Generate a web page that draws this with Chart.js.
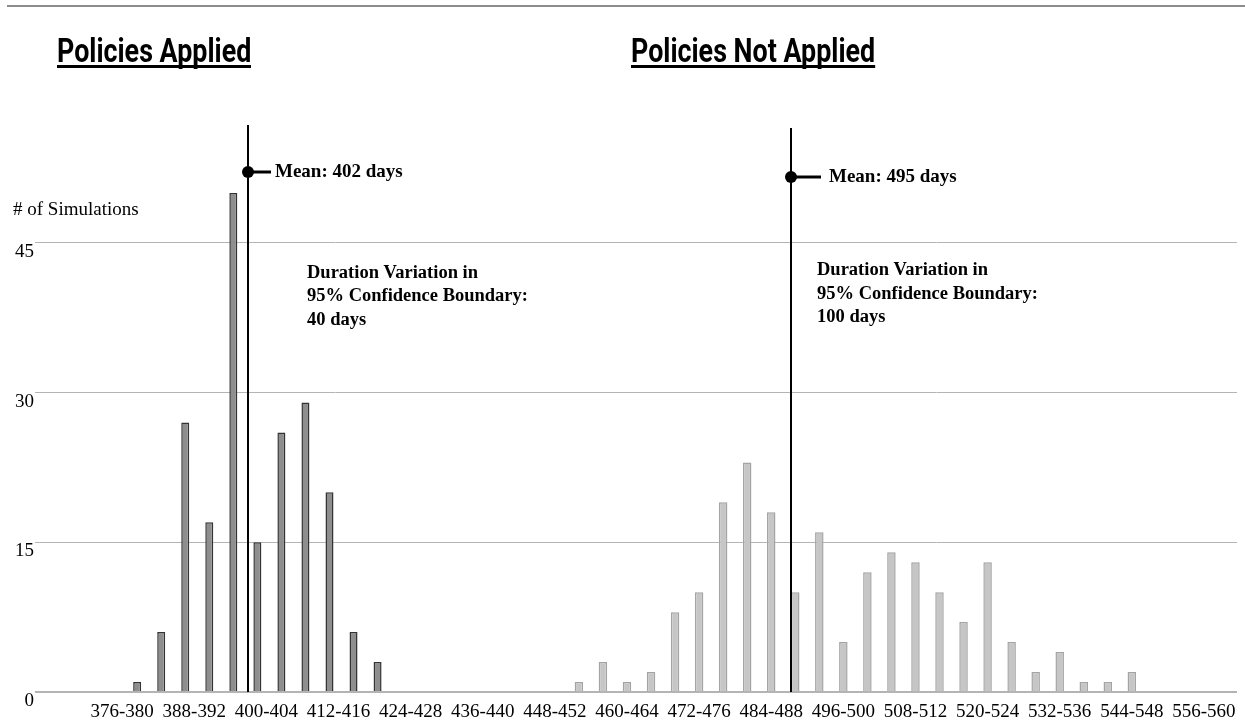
<!DOCTYPE html>
<html>
<head>
<meta charset="utf-8">
<script src="https://cdn.jsdelivr.net/npm/chart.js@4.4.0/dist/chart.umd.min.js"></script>
<style>
  html, body { margin: 0; padding: 0; background: #fff; }
  #wrap { position: relative; width: 1245px; height: 725px; overflow: hidden; }
  #topline { position: absolute; left: 7px; right: 0; top: 5px; height: 2px; background: #8c8c8c; }
  canvas { position: absolute; left: 0; top: 0; }
  .ttl { position: absolute; top: 33px; font-family: Roboto, "Noto Sans", sans-serif; font-weight: 700;
         font-size: 34px; line-height: 34px; color: #000; white-space: nowrap;
         transform: scaleX(0.79); transform-origin: left top;
         text-decoration: underline; text-decoration-thickness: 3px; text-underline-offset: 3px;
         text-decoration-skip-ink: none; }
</style>
</head>
<body>
<div id="wrap">
  <div id="topline"></div>
  <canvas id="myChart" width="1245" height="725"></canvas>
  <div class="ttl" style="left:57px">Policies Applied</div>
  <div class="ttl" style="left:631px">Policies Not Applied</div>
</div>
<script>
// tick labels on the x axis (every third 4-day bin) and where they sit, in days
var binLabels = ['376-380','388-392','400-404','412-416','424-428','436-440','448-452','460-464',
                 '472-476','484-488','496-500','508-512','520-524','532-536','544-548','556-560'];
var binMids = [378, 390, 402, 414, 426, 438, 450, 462, 474, 486, 498, 510, 522, 534, 546, 558];

// policies applied (bars sit on these day positions in the picture)
var appliedDays = [380.5, 384.5, 388.5, 392.5, 396.5, 400.5, 404.5, 408.5, 412.5, 416.5, 420.5];
var appliedCount = [1, 6, 27, 17, 50, 15, 26, 29, 20, 6, 3];

// policies not applied
var notAppliedDays = [454, 458, 462, 466, 470, 474, 478, 482, 486, 490, 494, 498,
                      502, 506, 510, 514, 518, 522, 526, 530, 534, 538, 542, 546];
var notAppliedCount = [1, 3, 1, 2, 8, 10, 19, 23, 18, 10, 16, 5,
                       12, 14, 13, 10, 7, 13, 5, 2, 4, 1, 1, 2];

var yTicks = [0, 15, 30, 45];

// mean and 95% spread text, and where the mean line is drawn on the axis
var meanDays = [402, 495];
var meanLineAt = [399, 489.3];
var spreadDays = [40, 100];

// annotation layout for each panel
var panels = [
  {lineTop: 125, dotY: 172, stub: 23, textDx: 27, boxDx: 59, boxY: [273, 296, 320]},
  {lineTop: 128, dotY: 177, stub: 30, textDx: 38, boxDx: 26, boxY: [270, 294, 317]}
];

const serif = '"Liberation Serif", "Times New Roman", serif';

const notes = {
  id: 'notes',
  afterDatasetsDraw(chart) {
    const ctx = chart.ctx;
    const x = chart.scales.x, y = chart.scales.y;
    ctx.save();
    ctx.fillStyle = '#000';
    ctx.textBaseline = 'middle';
    ctx.font = '19px ' + serif;
    ctx.fillText('# of Simulations', 13, y.getPixelForValue(45) - 33);

    panels.forEach(function(p, i) {
      const px = Math.round(x.getPixelForValue(meanLineAt[i]));
      const base = y.getPixelForValue(0);
      ctx.strokeStyle = '#000';
      ctx.lineWidth = 2;
      ctx.beginPath();
      ctx.moveTo(px, p.lineTop);
      ctx.lineTo(px, base);
      ctx.stroke();

      ctx.lineWidth = 3;
      ctx.beginPath();
      ctx.moveTo(px, p.dotY);
      ctx.lineTo(px + p.stub, p.dotY);
      ctx.stroke();
      ctx.beginPath();
      ctx.arc(px, p.dotY, 6, 0, Math.PI * 2);
      ctx.fill();

      ctx.font = 'bold 19px ' + serif;
      ctx.fillText('Mean: ' + meanDays[i] + ' days', px + p.textDx, p.dotY);

      ctx.font = 'bold 18.5px ' + serif;
      var lines = ['Duration Variation in', '95% Confidence Boundary:', spreadDays[i] + ' days'];
      lines.forEach(function(t, k) {
        ctx.fillText(t, px + p.boxDx, p.boxY[k]);
      });
    });
    ctx.restore();
  }
};

const ctx = document.getElementById('myChart').getContext('2d');
const myChart = new Chart(ctx, {
  type: 'bar',
  data: {
    datasets: [{
      label: 'Policies Applied',
      data: appliedDays.map(function(d, i) { return {x: d, y: appliedCount[i]}; }),
      backgroundColor: '#8e8e8e',
      borderColor: '#333333',
      borderWidth: 1.5,
      maxBarThickness: 8,
      grouped: false
    }, {
      label: 'Policies Not Applied',
      data: notAppliedDays.map(function(d, i) { return {x: d, y: notAppliedCount[i]}; }),
      backgroundColor: '#c6c6c6',
      borderColor: '#a4a4a4',
      borderWidth: 1.5,
      maxBarThickness: 8.5,
      grouped: false
    }]
  },
  options: {
    responsive: false,
    animation: false,
    devicePixelRatio: 1,
    layout: { padding: { top: 123, right: 8, left: 0, bottom: 0 } },
    plugins: {
      legend: { display: false },
      tooltip: { enabled: false }
    },
    scales: {
      x: {
        type: 'linear',
        offset: false,
        min: 363.5,
        max: 563.5,
        grid: { display: false, drawTicks: false },
        border: { display: false },
        afterBuildTicks: function(s) { s.ticks = binMids.map(function(v) { return {value: v}; }); },
        afterFit: function(s) { s.height = 33; },
        ticks: {
          autoSkip: false,
          maxRotation: 0,
          padding: 9,
          color: '#000',
          font: { family: serif, size: 19 },
          callback: function(value, index) { return binLabels[index]; }
        }
      },
      y: {
        min: 0,
        max: 57,
        grid: {
          color: '#b4b4b4',
          drawTicks: false,
          lineWidth: function(c) { return c.tick && c.tick.value === 0 ? 2 : 1; }
        },
        border: { display: false },
        afterBuildTicks: function(s) { s.ticks = yTicks.map(function(v) { return {value: v}; }); },
        afterFit: function(s) { s.width = 35; },
        ticks: {
          padding: 1,
          labelOffset: 9,
          color: '#000',
          font: { family: serif, size: 19 }
        }
      }
    }
  },
  plugins: [notes]
});
</script>
</body>
</html>
